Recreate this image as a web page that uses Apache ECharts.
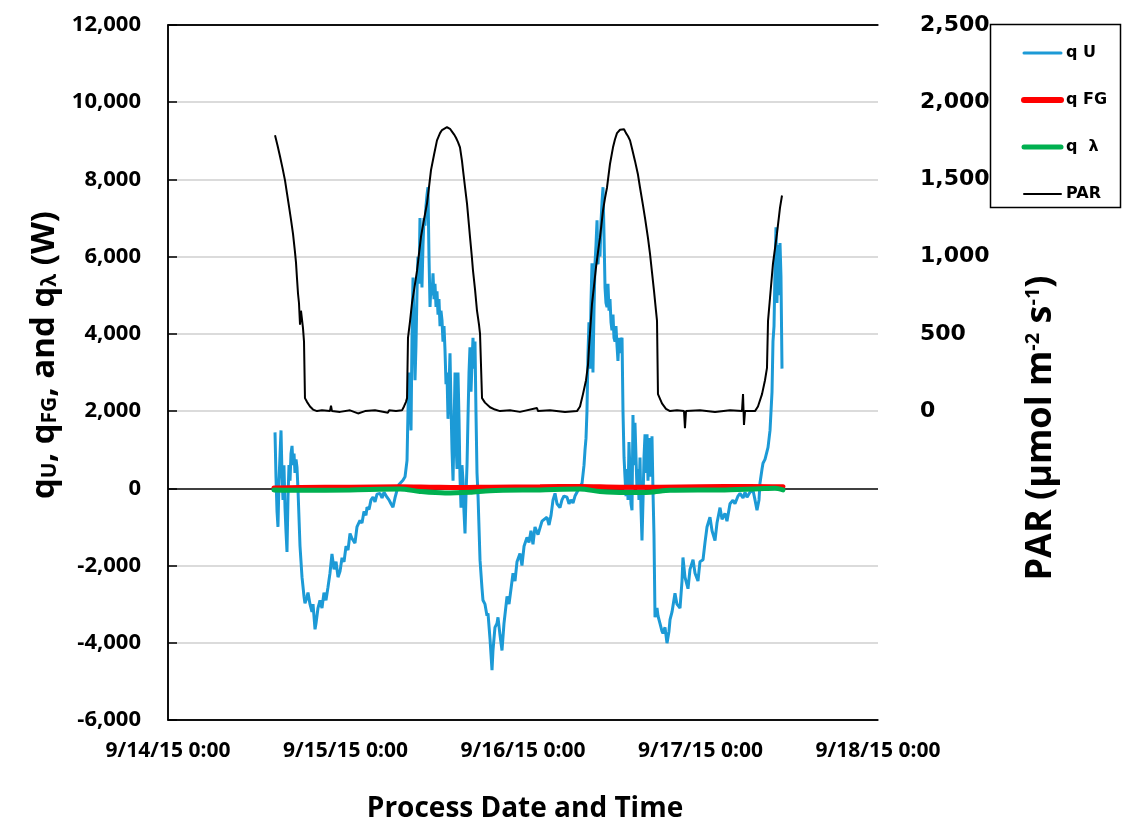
<!DOCTYPE html>
<html>
<head>
<meta charset="utf-8">
<script src="https://cdn.jsdelivr.net/npm/echarts@6/dist/echarts.min.js"></script>
<style>
html,body{margin:0;padding:0;background:#fff;}
#chart{width:1126px;height:825px;}
</style>
</head>
<body>
<div id="chart"></div>
<script>
// x values: hours since 9/14/15 0:00
const xTickLabels = ["9/14/15 0:00", "9/15/15 0:00", "9/16/15 0:00", "9/17/15 0:00", "9/18/15 0:00"];
const leftTicks = [-6000, 12000, 2000];
const rightTicks = [-2000, 2500, 500];

const quTime = [14.47,14.60,14.74,14.87,15.01,15.28,15.41,15.55,15.68,15.82,15.95,16.09,16.23,16.36,16.50,16.63,16.77,16.90,17.04,17.17,17.31,17.44,17.58,17.85,18.12,18.39,18.52,18.66,18.93,19.20,19.47,19.61,19.88,20.01,20.28,20.55,20.82,21.09,21.36,21.63,21.90,22.17,22.45,22.72,22.99,23.26,23.53,23.80,24.07,24.34,24.61,24.88,25.15,25.28,25.55,25.96,26.23,26.50,26.77,26.91,27.18,27.45,27.72,27.99,28.26,28.66,28.94,29.21,29.61,29.88,30.15,30.42,30.69,30.96,31.23,31.50,31.77,32.05,32.32,
32.45,32.59,32.72,32.86,32.99,33.13,33.26,33.40,33.53,33.67,33.80,33.94,34.07,34.21,34.34,34.48,34.61,34.75,34.88,35.02,35.15,35.29,35.43,35.56,35.70,35.83,35.97,36.10,36.24,36.37,36.51,36.64,36.78,36.91,37.05,37.18,37.32,37.45,37.59,37.72,37.86,37.99,38.13,38.26,38.40,38.54,38.67,38.81,38.94,39.08,39.21,39.35,39.48,39.62,39.75,39.89,40.02,40.16,40.29,40.43,40.56,40.70,40.83,40.97,41.10,41.24,41.37,41.51,41.64,41.78,41.92,
42.19,42.46,42.59,42.86,43.13,43.27,43.54,43.81,43.94,44.21,44.48,44.62,44.89,45.16,45.43,45.84,46.11,46.38,46.65,46.92,47.19,47.59,47.86,48.14,48.54,48.81,49.08,49.35,49.62,50.03,50.30,50.57,50.84,51.24,51.52,51.79,52.06,52.33,52.60,53.00,53.27,53.54,53.95,54.22,54.49,54.76,55.03,55.44,55.71,55.98,
56.25,56.38,56.52,56.65,56.79,56.92,57.06,57.19,57.33,57.46,57.60,57.73,57.87,58.01,58.14,58.28,58.41,58.55,58.68,58.82,58.95,59.09,59.22,59.36,59.49,59.63,59.76,59.90,60.03,60.17,60.30,60.44,60.57,60.71,60.84,60.98,61.12,61.25,61.39,61.52,61.66,61.79,61.93,62.06,62.20,62.33,62.47,62.60,62.74,62.87,63.01,63.14,63.28,63.41,63.55,63.68,63.82,63.95,64.09,64.23,64.36,64.50,64.63,64.77,64.90,65.04,65.17,65.31,65.44,65.58,65.71,65.85,
66.12,66.25,66.52,66.79,66.93,67.20,67.47,67.74,67.88,68.15,68.55,68.82,69.23,69.50,69.63,69.90,70.31,70.58,70.99,71.26,71.66,71.93,72.34,72.61,72.88,73.28,73.56,73.96,74.23,74.64,74.91,75.31,75.58,75.99,76.39,76.66,77.07,77.34,77.75,78.02,78.29,78.69,79.10,79.37,79.64,79.91,80.04,80.32,80.45,80.72,80.99,81.13,81.26,81.40,81.53,81.67,81.80,81.94,82.07,82.21,82.34,82.48,82.61,82.75,82.88,83.02];
const quValues = [1450,300,-600,-1000,200,1500,400,-300,600,-500,-1100,-1650,-200,600,200,900,1100,600,900,400,750,550,-50,-1500,-2300,-2800,-2980,-2900,-2700,-3000,-3200,-3000,-3650,-3500,-3100,-2900,-3100,-2700,-2900,-2560,-2200,-1700,-2100,-1900,-2300,-2150,-1800,-1900,-1500,-1600,-1170,-1300,-1250,-1420,-1000,-830,-900,-600,-700,-490,-550,-300,-230,-350,-150,-130,-250,-100,-230,-300,-400,-490,-250,-50,100,50,210,300,725,
2000,3000,2200,1500,3900,5460,4300,2800,3700,5100,6000,5300,7000,6200,5200,6300,7000,6800,7300,7600,7800,6000,4700,5300,5000,5570,4900,5300,4700,5100,4500,4900,4200,4600,4350,3800,4200,3600,2700,3000,1800,2600,3500,2200,1000,200,1500,3000,1200,500,3000,1800,300,-500,600,200,-600,-1170,-200,600,1800,3000,3650,2500,3200,3900,3100,3800,2000,400,-200,
-1860,-2600,-2900,-3000,-3300,-3240,-3900,-4710,-4200,-3600,-3500,-3340,-3800,-4200,-3500,-2800,-3000,-2600,-2200,-2400,-1900,-1690,-2000,-1500,-1270,-1400,-1100,-1450,-1000,-1200,-1170,-850,-900,-750,-950,-700,-300,-130,-400,-500,-300,-200,-230,-400,-300,-380,-200,-50,50,130,
600,980,1300,2000,3500,4300,3100,4800,5830,3000,4600,5800,6300,6940,5800,6400,6000,6900,7400,7800,6600,5200,4800,4690,5300,4600,4900,4300,4090,4500,3900,3800,4200,3700,3300,3900,3500,3800,3900,2000,800,300,-200,500,-300,1200,400,-400,-570,1900,600,1700,800,0,500,-300,800,-500,-1350,-300,800,1400,400,1400,200,1000,1300,300,1350,-100,-1200,-3340,
-3100,-3300,-3500,-3700,-3760,-3600,-4010,-3700,-3400,-3200,-2720,-3000,-3100,-2400,-1790,-2300,-2600,-2100,-1850,-2200,-2400,-1900,-1850,-1400,-1000,-750,-1100,-1350,-900,-500,-800,-650,-850,-400,-310,-400,-200,-130,-250,-100,-230,-100,-50,-300,-570,-300,130,500,650,750,800,1060,1100,1500,1500,2500,3800,4200,5600,6760,4800,6300,5000,6350,5500,3100];

const fgTime = [14.33,17.85,24.61,31.37,35.43,39.48,43.54,50.30,55.71,61.12,66.52,71.93,78.69,83.15];
const fgValues = [10,20,30,40,30,20,30,40,50,30,30,40,50,40];

const lamTime = [14.33,17.85,24.61,31.37,34.07,37.45,40.83,43.54,50.30,55.71,58.41,61.79,65.17,67.88,74.64,80.04,82.07,83.15];
const lamValues = [-40,-50,-40,-20,-80,-120,-100,-60,-40,-20,-80,-110,-100,-50,-40,-10,0,-40];

const parTime = [14.47,14.81,15.14,15.48,15.82,16.09,16.36,16.63,16.90,17.17,17.31,17.44,17.58,17.71,17.85,17.98,18.25,18.39,18.52,18.79,19.20,19.61,20.15,
20.82,21.90,22.04,22.17,23.26,24.61,25.69,26.64,27.99,29.75,29.88,30.83,31.64,
31.91,32.18,32.32,32.45,32.72,32.99,33.26,33.67,33.94,34.21,34.61,35.02,35.29,35.56,35.97,36.37,36.78,37.05,37.32,37.72,38.13,38.40,38.67,38.94,39.21,39.48,39.75,39.89,40.16,40.43,40.70,40.83,41.10,41.24,41.51,41.78,42.05,42.19,42.46,42.86,43.54,44.21,44.89,
46.24,47.59,49.89,50.03,51.65,53.68,55.30,
55.71,56.11,56.52,56.79,56.92,57.33,57.60,57.87,58.14,58.41,58.82,59.09,59.36,59.76,60.17,60.44,60.71,61.12,61.39,61.66,61.93,62.20,62.47,62.74,63.14,63.55,63.82,64.23,64.50,64.90,65.17,65.44,65.71,65.98,66.12,66.25,66.79,67.33,67.88,
68.82,69.77,69.90,70.04,71.93,73.96,75.99,77.61,77.75,77.88,78.02,79.37,
79.77,80.32,80.72,80.99,81.13,81.40,81.80,82.34,82.75,83.02];
const parValues = [1786,1720,1650,1575,1494,1410,1325,1240,1149,1030,960,860,760,700,560,650,539,450,84,60,30,10,0,
5,0,35,0,-5,5,-15,0,5,-10,5,0,5,
30,60,84,474,580,700,780,909,1020,1130,1240,1344,1450,1560,1660,1753,1800,1820,1832,1838,1828,1810,1792,1770,1742,1708,1620,1560,1450,1344,1200,1130,990,909,790,650,560,500,84,55,25,10,0,
5,-5,20,0,5,-5,0,
30,110,200,300,409,695,810,930,1030,1123,1300,1380,1448,1600,1708,1760,1800,1822,1831,1825,1800,1780,1753,1700,1620,1530,1448,1330,1250,1120,1019,900,780,650,584,110,50,15,0,
5,0,-110,0,5,-5,5,0,110,-90,0,0,
30,110,200,280,584,734,955,1149,1318,1396];

const seriesNames = ["q U", "q FG", "q  λ", "PAR"];
const seriesColors = ['#1c9ad6', '#ff0000', '#00b050', '#000000'];
const seriesWidths = [3, 5, 5, 2];
const legendWidths = [3, 6, 5, 2];

function zip(t, v) { return t.map((x, i) => [x, v[i]]); }
function fmt(v) { return v.toLocaleString('en-US'); }

const chart = echarts.init(document.getElementById('chart'), null, {renderer: 'canvas'});
const labelFont = 'Open Sans';
const gray = '#cfcfcf';

chart.setOption({
  animation: false,
  backgroundColor: '#fff',
  grid: {left: 168, right: 248, top: 25, bottom: 105, show: false},
  legend: {
    orient: 'vertical', left: 1016, top: 40, itemGap: 31, itemWidth: 37, itemHeight: 14,
    itemStyle: {opacity: 0},
    textStyle: {fontFamily: 'DejaVu Sans', fontWeight: 'bold', fontSize: 16, color: '#000'},
    data: seriesNames.map((n, i) => ({name: n, lineStyle: {width: legendWidths[i], color: seriesColors[i], cap: 'round'}}))
  },
  xAxis: [{
    type: 'value', min: 0, max: 96, interval: 24,
    axisLine: {show: true, onZero: false, lineStyle: {color: '#000', width: 1.5}},
    axisTick: {show: false}, splitLine: {show: false},
    axisLabel: {margin: 21, fontFamily: labelFont, fontWeight: 'bold', fontSize: 21, color: '#000',
      formatter: v => xTickLabels[Math.round(v / 24)] || ''}
  }, {
    type: 'value', position: 'top', min: 0, max: 96, interval: 24,
    axisLine: {show: true, onZero: false, lineStyle: {color: '#000', width: 1.5}},
    axisTick: {show: false}, axisLabel: {show: false}, splitLine: {show: false}
  }],
  yAxis: [{
    type: 'value', min: leftTicks[0], max: leftTicks[1], interval: leftTicks[2],
    axisLine: {show: true, lineStyle: {color: '#000', width: 1.5}},
    axisTick: {show: false},
    splitLine: {show: true, lineStyle: {width: 1.5, color: ['#000', gray, gray, '#000', gray, gray, gray, gray, gray, '#000']}},
    axisLabel: {margin: 27, fontFamily: labelFont, fontWeight: 'bold', fontSize: 22, color: '#000', formatter: fmt}
  }, {
    type: 'value', position: 'right', min: rightTicks[0], max: rightTicks[1], interval: rightTicks[2],
    axisLine: {show: true, lineStyle: {color: '#000', width: 1.5}},
    axisTick: {show: true, inside: false, length: 9, lineStyle: {color: '#000', width: 1.5}},
    splitLine: {show: false},
    axisLabel: {margin: 42, fontFamily: 'DejaVu Sans', fontWeight: 'bold', fontSize: 22, color: '#000',
      formatter: v => v < 0 ? '' : fmt(v)}
  }],
  series: [
    {name: seriesNames[0], type: 'line', data: zip(quTime, quValues), showSymbol: false, symbol: 'none',
      lineStyle: {color: seriesColors[0], width: seriesWidths[0]}, itemStyle: {color: seriesColors[0]}, z: 2},
    {name: seriesNames[1], type: 'line', data: zip(fgTime, fgValues), showSymbol: false, symbol: 'none', smooth: 0.3,
      lineStyle: {color: seriesColors[1], width: seriesWidths[1], cap: 'round'}, itemStyle: {color: seriesColors[1]}, z: 3},
    {name: seriesNames[2], type: 'line', data: zip(lamTime, lamValues), showSymbol: false, symbol: 'none', smooth: 0.3,
      lineStyle: {color: seriesColors[2], width: seriesWidths[2], cap: 'round'}, itemStyle: {color: seriesColors[2]}, z: 4},
    {name: seriesNames[3], type: 'line', yAxisIndex: 1, data: zip(parTime, parValues), showSymbol: false, symbol: 'none',
      lineStyle: {color: seriesColors[3], width: seriesWidths[3]}, itemStyle: {color: seriesColors[3]}, z: 5}
  ],
  graphic: [
    {type: 'rect', left: 988, top: 22, shape: {x: 0, y: 0, width: 130, height: 183},
      style: {fill: 'none', stroke: '#000', lineWidth: 1.5}, silent: true},
    {type: 'text', x: 41, y: 355, rotation: Math.PI / 2,
      style: {
        text: '{b|q}{s|U}{b|, q}{s|FG}{b|, and q}{s|λ}{b| (W)}',
        align: 'center', verticalAlign: 'middle', fill: '#000',
        rich: {
          b: {fontFamily: labelFont, fontWeight: 'bold', fontSize: 33, lineHeight: 40, verticalAlign: 'bottom', fill: '#000'},
          s: {fontFamily: labelFont, fontWeight: 'bold', fontSize: 21, lineHeight: 20, verticalAlign: 'bottom', fill: '#000'}
        }
      }},
    {type: 'text', x: 1045, y: 428, rotation: Math.PI / 2,
      style: {
        text: '{b|PAR (µmol m}{p|-2}{b| s}{p|-1}{b|)}',
        align: 'center', verticalAlign: 'middle', fill: '#000',
        rich: {
          b: {fontFamily: labelFont, fontWeight: 'bold', fontSize: 36, lineHeight: 44, verticalAlign: 'top', fill: '#000'},
          p: {fontFamily: labelFont, fontWeight: 'bold', fontSize: 20, lineHeight: 20, verticalAlign: 'top', fill: '#000'}
        }
      }},
    {type: 'text', x: 525, y: 809,
      style: {text: 'Process Date and Time', align: 'center', verticalAlign: 'middle',
        fontFamily: labelFont, fontWeight: 'bold', fontSize: 28, fill: '#000'}}
  ]
});
</script>
</body>
</html>
